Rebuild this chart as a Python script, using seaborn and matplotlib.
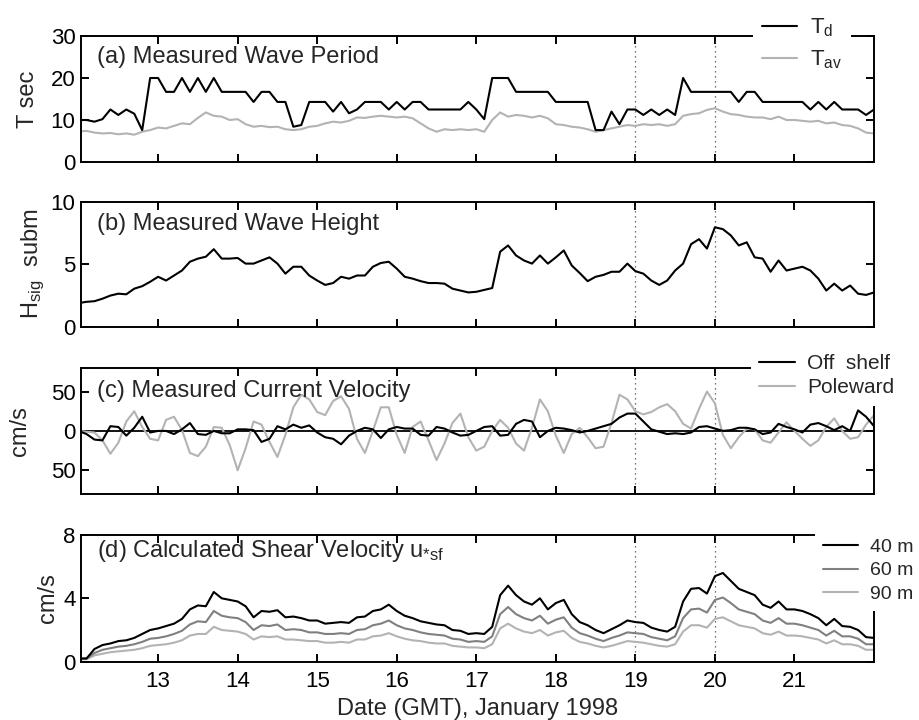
import numpy as np
import pandas as pd
import matplotlib
matplotlib.use("Agg")
import matplotlib.pyplot as plt
import seaborn as sns

# time axis: every 0.1 day from 12 to 22 January 1998
days = np.round(12.0 + 0.1 * np.arange(101), 2)

# (a) wave period, sec
T_d = [10, 10, 9.6, 10.2, 12.5, 11.2, 12.5, 11.5, 7.6, 20,
       20, 16.7, 16.7, 20, 16.7, 20, 16.7, 20, 16.7, 16.7,
       16.7, 16.7, 14.3, 16.7, 16.7, 14.3, 14.3, 8.4, 8.8, 14.3,
       14.3, 14.3, 12, 14.3, 11.6, 12.5, 14.3, 14.3, 14.3, 12.5,
       14.3, 12.5, 14.3, 14.3, 12.5, 12.5, 12.5, 12.5, 12.5, 14.3,
       12.5, 10.2, 20, 20, 20, 16.7, 16.7, 16.7, 16.7, 16.7,
       14.3, 14.3, 14.3, 14.3, 14.3, 7.6, 7.6, 12, 9, 12.5,
       12.5, 11.2, 12.5, 11.2, 12.5, 11.2, 20, 16.7, 16.7, 16.7,
       16.7, 16.7, 16.7, 14.3, 16.7, 16.7, 14.3, 14.3, 14.3, 14.3,
       14.3, 14.3, 12.5, 14.3, 12.5, 14.3, 12.5, 12.5, 12.5, 11.2,
       12.5]
T_av = [7.3, 7.4, 7.0, 6.8, 6.9, 6.6, 6.8, 6.5, 7.2, 7.6,
        8.2, 8.0, 8.6, 9.2, 9.0, 10.5, 11.8, 11.0, 10.8, 10.0,
        10.2, 9.0, 8.4, 8.6, 8.3, 8.4, 7.8, 7.6, 7.8, 8.4,
        8.6, 9.2, 9.6, 9.4, 9.8, 10.6, 10.5, 10.8, 11.0, 10.8,
        10.6, 10.8, 10.4, 9.2, 8.0, 7.2, 7.8, 7.6, 7.8, 7.6,
        7.8, 7.2, 10.0, 11.8, 10.8, 11.2, 11.0, 10.6, 11.0, 10.4,
        9.0, 8.8, 8.4, 8.2, 7.8, 7.2, 7.6, 8.0, 8.4, 8.8,
        8.6, 9.0, 8.8, 9.0, 8.6, 9.0, 11.0, 11.4, 11.6, 12.4,
        12.8, 12.0, 11.4, 11.2, 10.8, 10.6, 10.6, 10.2, 10.8, 10.0,
        10.0, 9.8, 9.6, 9.8, 9.2, 9.4, 8.8, 8.6, 8.0, 7.0,
        6.8]

# (b) significant wave height, m
H_sig = [1.9, 2.0, 2.05, 2.25, 2.5, 2.65, 2.6, 3.05, 3.25, 3.6,
         4.0, 3.7, 4.1, 4.5, 5.2, 5.45, 5.6, 6.2, 5.45, 5.45,
         5.5, 5.05, 5.05, 5.3, 5.55, 5.05, 4.25, 4.8, 4.8, 4.1,
         3.7, 3.35, 3.5, 4.0, 3.85, 4.1, 4.1, 4.8, 5.1, 5.2,
         4.65, 4.0, 3.85, 3.65, 3.5, 3.5, 3.45, 3.05, 2.9, 2.75,
         2.8, 2.95, 3.1, 6.0, 6.5, 5.7, 5.3, 5.05, 5.7, 5.05,
         5.55, 6.1, 4.9, 4.3, 3.65, 4.0, 4.15, 4.4, 4.4, 5.05,
         4.45, 4.25, 3.7, 3.35, 3.7, 4.5, 5.05, 6.6, 7.0, 6.25,
         7.95, 7.8, 7.3, 6.5, 6.75, 5.55, 5.45, 4.4, 5.3, 4.5,
         4.65, 4.8, 4.5, 3.85, 2.9, 3.45, 2.9, 3.3, 2.65, 2.55,
         2.75]

# (c) current velocity, cm/s
off_shelf = [0, -4, -11, -12, 6, 5, -6, 4, 18, -2,
             0, 0, -4, 2, 10, -4, -5, 0, -3, -3,
             2, 2, 1, -14, -10, 6, 2, 8, 4, 7,
             -2, -8, -10, -17, -6, 0, 4, 2, -9, 2,
             5, 3, 3, -5, -6, 5, 3, -2, -6, -5,
             0, 5, 6, -6, -5, 9, 14, 12, -8, 0,
             4, 3, 1, -2, 0, 3, 6, 9, 17, 22,
             22, 12, 2, -1, -4, -3, -4, -2, 5, 6,
             3, 0, 1, 4, 4, 2, -4, -2, 9, 5,
             2, -2, 8, 10, 6, 1, 6, 0, 26, 18,
             6]
poleward = [0, -1, -2, -12, -29, -15, 12, 25, 5, -10,
            -12, 14, 18, 1, -28, -32, -20, 5, 4, -18,
            -50, -22, 12, 8, -14, -33, -5, 30, 46, 40,
            24, 20, 38, 44, 28, -10, -28, 0, 30, 30,
            -5, -28, 5, 12, -12, -37, -16, 10, 22, -8,
            -25, -20, 0, 14, 4, -16, -25, 4, 40, 25,
            -6, -28, -4, 4, -8, -22, -20, 10, 46, 40,
            25, 21, 24, 30, 34, 25, 9, 3, 28, 50,
            35, -5, -22, -8, 3, 2, -12, -15, -2, 11,
            0, -10, -19, -12, 5, 16, 0, -10, -8, 8,
            20]

# (d) shear velocity, cm/s
u_40 = [0.2, 0.2, 0.8, 1.05, 1.15, 1.3, 1.35, 1.5, 1.75, 2.0,
        2.1, 2.25, 2.4, 2.7, 3.3, 3.55, 3.5, 4.4, 4.0, 3.9,
        3.8, 3.5, 2.8, 3.2, 3.15, 3.25, 2.8, 2.85, 2.75, 2.6,
        2.6, 2.4, 2.45, 2.5, 2.45, 2.8, 2.85, 3.2, 3.3, 3.6,
        3.2, 2.9, 2.75, 2.55, 2.45, 2.35, 2.3, 2.0, 1.95, 1.75,
        1.8, 1.75, 2.2, 4.2, 4.8, 4.2, 3.8, 3.6, 4.0, 3.3,
        3.7, 3.9, 3.0, 2.5, 2.3, 2.0, 1.8, 2.05, 2.3, 2.6,
        2.5, 2.45, 2.15, 2.0, 1.9, 2.2, 3.8, 4.6, 4.65, 4.3,
        5.4, 5.6, 5.1, 4.6, 4.4, 4.2, 3.6, 3.4, 3.8, 3.3,
        3.3, 3.2, 3.0, 2.75, 2.3, 2.7, 2.25, 2.2, 2.0, 1.55,
        1.5]
u_60 = [0.2, 0.2, 0.55, 0.75, 0.85, 0.95, 1.0, 1.1, 1.25, 1.45,
        1.5, 1.6, 1.75, 1.95, 2.35, 2.55, 2.5, 3.2, 2.9, 2.8,
        2.75, 2.5, 2.0, 2.3, 2.25, 2.35, 2.0, 2.05, 2.0, 1.85,
        1.85, 1.75, 1.75, 1.8, 1.75, 2.0, 2.05, 2.3, 2.4, 2.6,
        2.3, 2.1, 2.0, 1.85, 1.75, 1.7, 1.65, 1.45, 1.4, 1.25,
        1.3, 1.25, 1.6, 3.0, 3.45, 3.0, 2.75, 2.6, 2.9, 2.4,
        2.65, 2.8, 2.15, 1.8, 1.65, 1.45, 1.3, 1.5, 1.65, 1.85,
        1.8, 1.75, 1.55, 1.45, 1.35, 1.6, 2.75, 3.3, 3.35, 3.1,
        3.9, 4.05, 3.7, 3.3, 3.15, 3.0, 2.6, 2.45, 2.75, 2.4,
        2.4, 2.3, 2.15, 2.0, 1.65, 1.95, 1.6, 1.6, 1.45, 1.1,
        1.1]
u_90 = [0.15, 0.15, 0.4, 0.5, 0.6, 0.65, 0.7, 0.75, 0.85, 1.0,
        1.05, 1.1, 1.2, 1.35, 1.65, 1.75, 1.75, 2.2, 2.0, 1.95,
        1.9, 1.75, 1.4, 1.6, 1.55, 1.6, 1.4, 1.4, 1.35, 1.3,
        1.3, 1.2, 1.2, 1.25, 1.2, 1.4, 1.4, 1.6, 1.65, 1.8,
        1.6, 1.45, 1.35, 1.3, 1.2, 1.15, 1.15, 1.0, 0.95, 0.9,
        0.9, 0.85, 1.1, 2.1, 2.4, 2.1, 1.9, 1.8, 2.0, 1.65,
        1.85, 1.95, 1.5, 1.25, 1.15, 1.0, 0.9, 1.0, 1.15, 1.3,
        1.25, 1.2, 1.1, 1.0, 0.95, 1.1, 1.9, 2.3, 2.3, 2.15,
        2.7, 2.8, 2.55, 2.3, 2.2, 2.1, 1.8, 1.7, 1.9, 1.65,
        1.65, 1.6, 1.5, 1.4, 1.15, 1.35, 1.1, 1.1, 1.0, 0.75,
        0.75]

date_ticks = [13, 14, 15, 16, 17, 18, 19, 20, 21]
marked_days = [19, 20]
c_ticks = [-50, 0, 50]
c_tick_labels = ["50", "0", "50"]

sns.set_style("ticks")
plt.rcParams["font.family"] = ["Liberation Sans", "DejaVu Sans"]
plt.rcParams.update({
    "font.size": 16,
    "mathtext.fontset": "custom",
    "mathtext.rm": "Liberation Sans",
    "mathtext.it": "Liberation Sans",
    "mathtext.default": "rm",
    "axes.linewidth": 1.4,
    "axes.edgecolor": "black",
    "xtick.color": "black",
    "ytick.color": "black",
})

BLACK = "black"
GREY = "#b3b3b3"
MID = "#808080"
TXT = 17  # titles and axis labels

fig = plt.figure(figsize=(9.2, 7.2), dpi=100)
boxes = [[0.088, 0.775, 0.862, 0.175],
         [0.088, 0.546, 0.862, 0.174],
         [0.088, 0.314, 0.862, 0.175],
         [0.088, 0.081, 0.862, 0.176]]
axes = [fig.add_axes(b) for b in boxes]


def line(ax, y, color):
    df = pd.DataFrame({"day": days, "v": y})
    sns.lineplot(data=df, x="day", y="v", color=color, linewidth=1.5,
                 estimator=None, sort=False, ax=ax, legend=False)
    return ax.lines[-1]


def legend(ax, handles, labels, anchor, spacing, size, hlen):
    leg = ax.legend(handles, labels, loc="upper left", bbox_to_anchor=anchor,
                    borderaxespad=0, borderpad=0.4, handlelength=hlen,
                    handletextpad=0.6, labelspacing=spacing, frameon=True,
                    fancybox=False, framealpha=1, facecolor="white",
                    edgecolor="none", fontsize=size)
    leg.set_zorder(10)


# (a)
ax = axes[0]
h_av = line(ax, T_av, GREY)
h_d = line(ax, T_d, BLACK)
ax.set_ylim(0, 30)
ax.set_yticks([0, 10, 20, 30])
ax.set_ylabel("T sec", fontsize=TXT)
ax.yaxis.set_label_coords(-0.053, 0.5)
ax.text(0.02, 0.786, "(a) Measured Wave Period", transform=ax.transAxes,
        va="baseline", fontsize=TXT)
legend(ax, [h_d, h_av], ["T$_d$", "T$_{av}$"], (0.847, 1.225), 0.42, 16, 1.6)

# (b)
ax = axes[1]
line(ax, H_sig, BLACK)
ax.set_ylim(0, 10)
ax.set_yticks([0, 5, 10])
ax.set_ylabel("H$_{sig}$  subm", fontsize=TXT)
ax.yaxis.set_label_coords(-0.043, 0.5)
ax.text(0.02, 0.776, "(b) Measured Wave Height", transform=ax.transAxes,
        va="baseline", fontsize=TXT)

# (c)
ax = axes[2]
ax.axhline(0, color=BLACK, linewidth=1.3, zorder=1)
h_pw = line(ax, poleward, GREY)
h_os = line(ax, off_shelf, BLACK)
ax.set_ylim(-80, 80)
ax.set_yticks(c_ticks, labels=c_tick_labels)
ax.set_ylabel("cm/s", fontsize=TXT)
ax.yaxis.set_label_coords(-0.063, 0.5)
ax.text(0.02, 0.772, "(c) Measured Current Velocity", transform=ax.transAxes,
        va="baseline", fontsize=TXT)
legend(ax, [h_os, h_pw], ["Off  shelf", "Poleward"], (0.845, 1.175), 0.25, 15, 1.7)

# (d)
ax = axes[3]
h90 = line(ax, u_90, GREY)
h60 = line(ax, u_60, MID)
h40 = line(ax, u_40, BLACK)
ax.set_ylim(0, 8)
ax.set_yticks([0, 4, 8])
ax.set_ylabel("cm/s", fontsize=TXT)
ax.yaxis.set_label_coords(-0.028, 0.5)
ax.text(0.02, 0.829, "(d) Calculated Shear Velocity u$_{*sf}$",
        transform=ax.transAxes, va="baseline", fontsize=TXT)
legend(ax, [h40, h60, h90], ["40 m", "60 m", "90 m"], (0.926, 1.035), 0.3, 14, 1.8)
ax.set_xlabel("Date (GMT), January 1998", fontsize=TXT)

for i, ax in enumerate(axes):
    for d in marked_days:
        ax.axvline(d, color="#444444", linewidth=0.9, linestyle=(0, (1, 3)), zorder=1)
    ax.set_xlim(12.03, 22.0)
    ax.set_xticks(date_ticks)
    ax.tick_params(direction="in", top=True, right=True, length=6, width=1.4,
                   labelsize=16, pad=4)
    ax.tick_params(axis="x", pad=7)
    if i < 3:
        ax.set_xticklabels([])
        ax.set_xlabel("")

fig.savefig("out.png", dpi=100)
